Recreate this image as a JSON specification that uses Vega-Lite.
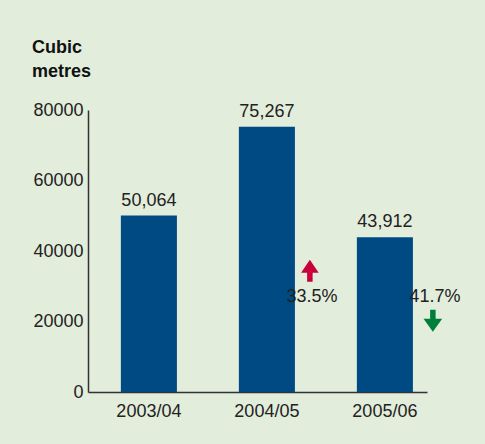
{
  "$schema": "https://vega.github.io/schema/vega-lite/v6.json",
  "autosize": {"type": "none"},
  "width": 339,
  "height": 282,
  "padding": {"left": 88, "top": 110, "right": 58, "bottom": 52},
  "background": "#e2eddb",
  "title": {
    "text": ["Cubic", "metres"],
    "anchor": "start",
    "frame": "group",
    "dx": -56,
    "fontSize": 18,
    "fontWeight": "bold",
    "font": "Liberation Sans",
    "color": "#111111",
    "lineHeight": 24,
    "offset": 20
  },
  "datasets": {
    "volumes": [
      {"year": "2003/04", "cubic_metres": 50064},
      {"year": "2004/05", "cubic_metres": 75267},
      {"year": "2005/06", "cubic_metres": 43912}
    ],
    "changes": [
      {"year": "2004/05", "change": "33.5%", "direction": "up"},
      {"year": "2005/06", "change": "41.7%", "direction": "down"}
    ]
  },
  "encoding": {
    "x": {
      "field": "year",
      "type": "nominal",
      "sort": null,
      "scale": {"paddingInner": 0.525, "paddingOuter": 0.199, "align": 0.7},
      "axis": {
        "title": null,
        "labelAngle": 0,
        "ticks": false,
        "labelPadding": 10,
        "domainColor": "#333333",
        "domainWidth": 1.5,
        "labelFont": "Liberation Sans",
        "labelFontSize": 18,
        "labelColor": "#222222"
      }
    }
  },
  "layer": [
    {
      "data": {"name": "volumes"},
      "mark": {"type": "bar", "color": "#004a84"},
      "encoding": {
        "y": {
          "field": "cubic_metres",
          "type": "quantitative",
          "scale": {"domain": [0, 80000], "nice": false},
          "axis": {
            "title": null,
            "values": [0, 20000, 40000, 60000, 80000],
            "format": "d",
            "grid": false,
            "ticks": false,
            "labelPadding": 5,
            "domainColor": "#333333",
            "domainWidth": 1.5,
            "labelFont": "Liberation Sans",
            "labelFontSize": 18,
            "labelColor": "#222222"
          }
        }
      }
    },
    {
      "data": {"name": "volumes"},
      "mark": {"type": "text", "baseline": "bottom", "dy": -6, "font": "Liberation Sans", "fontSize": 18, "color": "#222222"},
      "encoding": {
        "y": {"field": "cubic_metres", "type": "quantitative"},
        "text": {"field": "cubic_metres", "type": "quantitative", "format": ","}
      }
    },
    {
      "data": {"name": "changes"},
      "transform": [{"filter": "datum.direction === 'up'"}],
      "mark": {"type": "text", "baseline": "middle", "align": "center", "dx": 45, "font": "Liberation Sans", "fontSize": 18, "color": "#222222"},
      "encoding": {
        "y": {"datum": 27000, "type": "quantitative"},
        "text": {"field": "change", "type": "nominal"}
      }
    },
    {
      "data": {"name": "changes"},
      "transform": [{"filter": "datum.direction === 'down'"}],
      "mark": {"type": "text", "baseline": "middle", "align": "center", "dx": 50, "font": "Liberation Sans", "fontSize": 18, "color": "#222222"},
      "encoding": {
        "y": {"datum": 27000, "type": "quantitative"},
        "text": {"field": "change", "type": "nominal"}
      }
    },
    {
      "data": {"name": "changes"},
      "transform": [{"filter": "datum.direction === 'up'"}],
      "mark": {"type": "point", "filled": true, "opacity": 1, "size": 484},
      "encoding": {
        "y": {"datum": 27000, "type": "quantitative"},
        "xOffset": {"value": 71},
        "yOffset": {"value": -26},
        "shape": {"field": "direction", "type": "nominal", "legend": null,
          "scale": {"domain": ["up", "down"], "range": ["M0,-1L0.8,0.18L0.25,0.18L0.25,1L-0.25,1L-0.25,0.18L-0.8,0.18Z", "M0,1L0.85,-0.18L0.25,-0.18L0.25,-1L-0.25,-1L-0.25,-0.18L-0.85,-0.18Z"]}},
        "color": {"field": "direction", "type": "nominal", "legend": null,
          "scale": {"domain": ["up", "down"], "range": ["#c8003c", "#007f3a"]}}
      }
    },
    {
      "data": {"name": "changes"},
      "transform": [{"filter": "datum.direction === 'down'"}],
      "mark": {"type": "point", "filled": true, "opacity": 1, "size": 484},
      "encoding": {
        "y": {"datum": 27000, "type": "quantitative"},
        "xOffset": {"value": 76},
        "yOffset": {"value": 24},
        "shape": {"field": "direction", "type": "nominal", "legend": null},
        "color": {"field": "direction", "type": "nominal", "legend": null}
      }
    }
  ],
  "config": {
    "view": {"stroke": null}
  }
}
